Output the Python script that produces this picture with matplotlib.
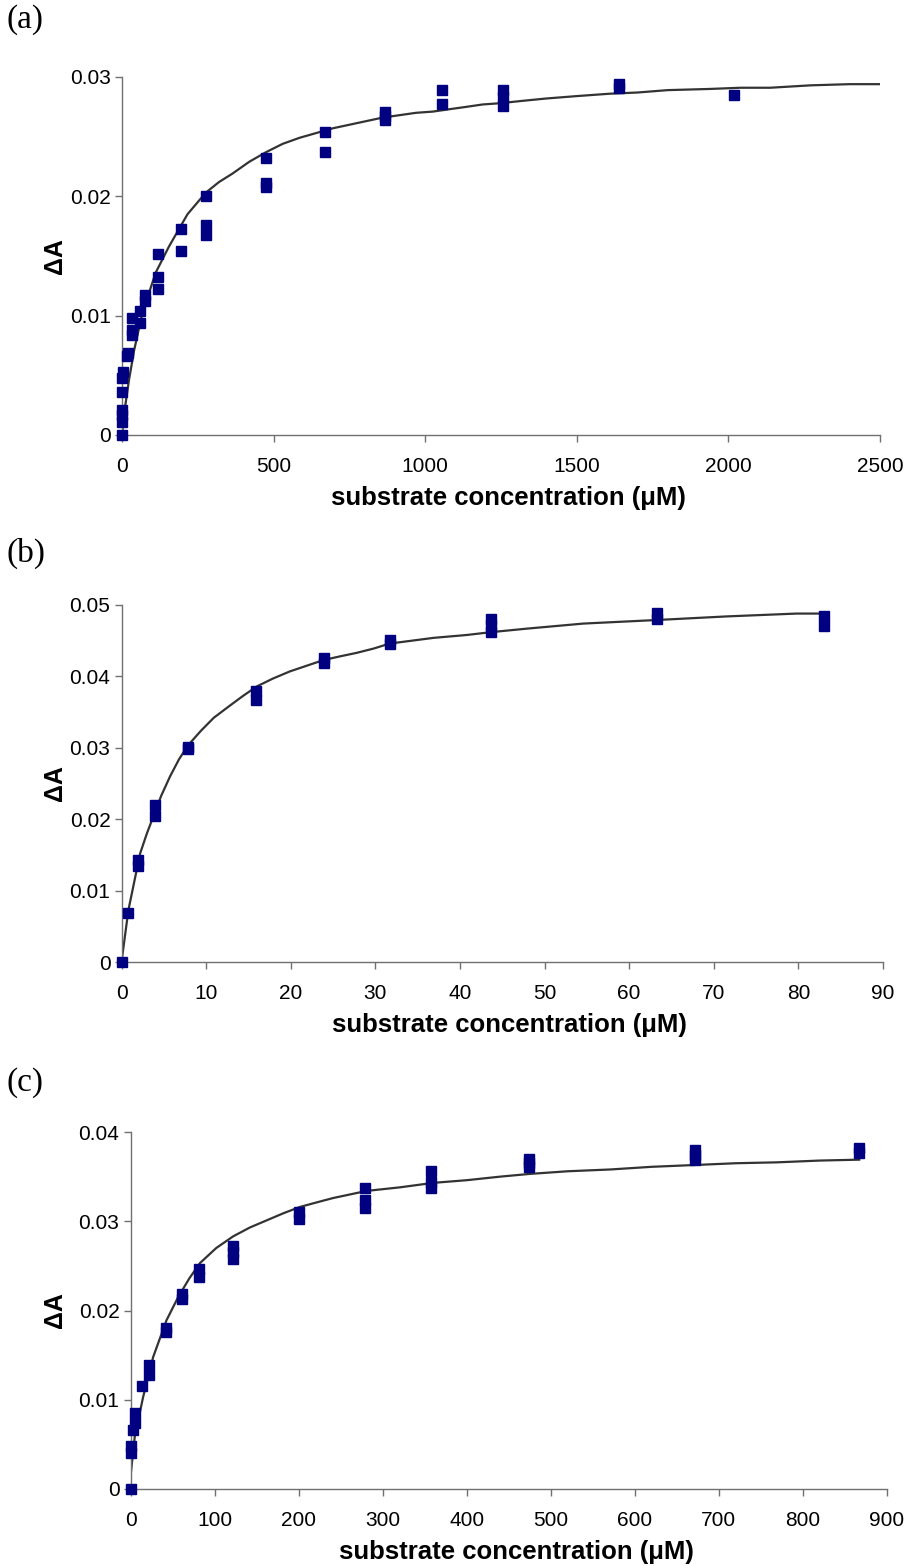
import numpy as np
import matplotlib.pyplot as plt

plt.rcParams['font.family'] = ['Liberation Sans', 'DejaVu Sans']

# ---- panel (a) data ----
xa = [0, 0, 0, 0, 0, 0, 2, 17, 20, 34, 34, 34, 58, 58, 76, 76,
      118, 118, 118, 196, 196, 276, 276, 276, 475, 475, 475,
      668, 668, 866, 866, 866, 1057, 1057, 1255, 1255, 1255, 1639, 1639, 2020]
ya = [0, 0.0011, 0.0017, 0.0021, 0.0036, 0.0048, 0.0053, 0.0066, 0.0069,
      0.0084, 0.0088, 0.0098, 0.0094, 0.0104, 0.0112, 0.0117,
      0.0122, 0.0132, 0.0152, 0.0154, 0.0173, 0.0200, 0.0176, 0.0168,
      0.0232, 0.0211, 0.0208, 0.0254, 0.0237, 0.0271, 0.0267, 0.0264,
      0.0289, 0.0277, 0.0289, 0.0283, 0.0276, 0.0294, 0.0291, 0.0285]
fit_xa = [0, 7, 23, 40, 67, 111, 155, 216, 276, 320, 364, 420, 475, 530, 585,
          640, 695, 750, 805, 860, 915, 970, 1025, 1080, 1136, 1190, 1246,
          1320, 1400, 1500, 1609, 1700, 1800, 1940, 2040, 2138, 2270, 2400, 2500]
fit_ya = [0, 0.0018, 0.0046, 0.0071, 0.0102, 0.0136, 0.0158, 0.0185, 0.0203,
          0.0212, 0.0219, 0.0229, 0.0237, 0.0244, 0.0249, 0.0253, 0.0257,
          0.0260, 0.0263, 0.0266, 0.0268, 0.0270, 0.0271, 0.0273, 0.0275,
          0.0277, 0.0278, 0.0280, 0.0282, 0.0284, 0.0286, 0.0287, 0.0289,
          0.0290, 0.0291, 0.0291, 0.0293, 0.0294, 0.0294]

# ---- panel (b) data ----
xb = [0, 0.74, 2.0, 2.0, 3.97, 3.97, 7.9, 7.9, 15.9, 15.9, 23.9, 23.9,
      31.7, 31.7, 43.7, 43.7, 43.7, 63.3, 63.3, 83.0, 83.0]
yb = [0, 0.0068, 0.0143, 0.0135, 0.0220, 0.0204, 0.0301, 0.0298,
      0.0379, 0.0367, 0.0426, 0.0419, 0.0451, 0.0446,
      0.0481, 0.0472, 0.0462, 0.0489, 0.0481, 0.0484, 0.0470]
fit_xb = [0, 0.82, 2.2, 3.0, 3.77, 4.7, 5.74, 6.8, 7.9, 9.4, 10.9, 12.8, 14.4,
          16.0, 17.9, 19.9, 21.9, 23.9, 25.8, 27.8, 29.8, 31.7, 34.3, 36.9,
          40.8, 43.7, 48.0, 54.6, 63.3, 71.5, 79.8, 83.0]
fit_yb = [0, 0.0073, 0.0152, 0.0180, 0.0204, 0.0233, 0.0260, 0.0284, 0.0304,
          0.0324, 0.0342, 0.0359, 0.0373, 0.0386, 0.0397, 0.0407, 0.0415,
          0.0423, 0.0428, 0.0433, 0.0439, 0.0446, 0.0450, 0.0454, 0.0458,
          0.0462, 0.0467, 0.0474, 0.0479, 0.0484, 0.0488, 0.0488]

# ---- panel (c) data ----
xc = [0, 0, 0, 2.4, 5.1, 5.1, 13.8, 21.8, 21.8, 41.7, 41.7, 61.5, 61.5,
      81.3, 81.3, 122, 122, 122, 200, 200, 279, 279, 279,
      357.5, 357.5, 357.5, 474.5, 474.5, 474.5, 671, 671, 671, 867, 867]
yc = [0, 0.0048, 0.0040, 0.0066, 0.0085, 0.0074, 0.0115, 0.0139, 0.0128,
      0.0180, 0.0176, 0.0218, 0.0213, 0.0247, 0.0238, 0.0272, 0.0265, 0.0258,
      0.0310, 0.0302, 0.0337, 0.0324, 0.0315, 0.0356, 0.0344, 0.0337,
      0.0370, 0.0365, 0.0361, 0.0380, 0.0374, 0.0369, 0.0382, 0.0376]
fit_xc = [0, 5.1, 15, 27, 42.8, 56.7, 70, 82.5, 102, 122, 142, 162, 182,
          201.5, 221, 241, 261, 281, 320.6, 360, 400, 440, 474.5, 520,
          570.6, 620, 671, 720, 769, 820, 867]
fit_yc = [0.0014, 0.0059, 0.0103, 0.0148, 0.0189, 0.0215, 0.0236, 0.0253,
          0.0270, 0.0283, 0.0293, 0.0301, 0.0309, 0.0316, 0.0321, 0.0326,
          0.0330, 0.0334, 0.0338, 0.0343, 0.0346, 0.0350, 0.0353, 0.0356,
          0.0358, 0.0361, 0.0363, 0.0365, 0.0366, 0.0368, 0.0369]

W, H = 908, 1566
fig = plt.figure(figsize=(W / 100, H / 100), dpi=100)


def make_axes(left, right, top, bottom):
    return fig.add_axes([left / W, (H - bottom) / H, (right - left) / W, (bottom - top) / H])


panels = [
    ((122, 880, 77, 435), xa, ya, fit_xa, fit_ya, (0, 2500), np.arange(0, 2501, 500),
     (0, 0.03), [0, 0.01, 0.02, 0.03], '(a)', 20),
    ((121.5, 883, 605, 962), xb, yb, fit_xb, fit_yb, (0, 90), np.arange(0, 91, 10),
     (0, 0.05), [0, 0.01, 0.02, 0.03, 0.04, 0.05], '(b)', 553),
    ((130.5, 887, 1132, 1489), xc, yc, fit_xc, fit_yc, (0, 900), np.arange(0, 901, 100),
     (0, 0.04), [0, 0.01, 0.02, 0.03, 0.04], '(c)', 1083),
]

for box, x, y, fx, fy, xlim, xticks, ylim, yticks, tag, tag_y in panels:
    ax = make_axes(*box)
    ax.plot(fx, fy, color='#333333', lw=1.6, zorder=2)
    ax.plot(x, y, ls='none', marker='s', ms=7.5, color='#000080', mec='#000080', zorder=3, clip_on=False)
    ax.set_xlim(*xlim)
    ax.set_ylim(*ylim)
    ax.set_xticks(xticks)
    ax.set_yticks(yticks)
    ax.set_yticklabels(['0' if v == 0 else f'{v:g}' for v in yticks])
    for s in ['top', 'right']:
        ax.spines[s].set_visible(False)
    for s in ['left', 'bottom']:
        ax.spines[s].set_color('#707070')
        ax.spines[s].set_linewidth(1.0)
    ax.tick_params(axis='both', direction='out', length=5, width=1, color='#707070', labelsize=15)
    ax.tick_params(axis='x', pad=11)
    ax.tick_params(axis='y', pad=3)
    ax.set_xlabel('substrate concentration (\u03bcM)', fontsize=18.5, fontweight='bold')
    ax.xaxis.set_label_coords(0.51, -51 / (box[3] - box[2]))
    ax.set_ylabel('\u0394A', fontsize=18, fontweight='bold')
    ax.yaxis.set_label_coords((67 - box[0]) / (box[1] - box[0]), 0.5)
    fig.text(6 / W, 1 - tag_y / H, tag, fontsize=24, family='Liberation Serif', va='center', ha='left')

fig.savefig('out.png', dpi=100)
